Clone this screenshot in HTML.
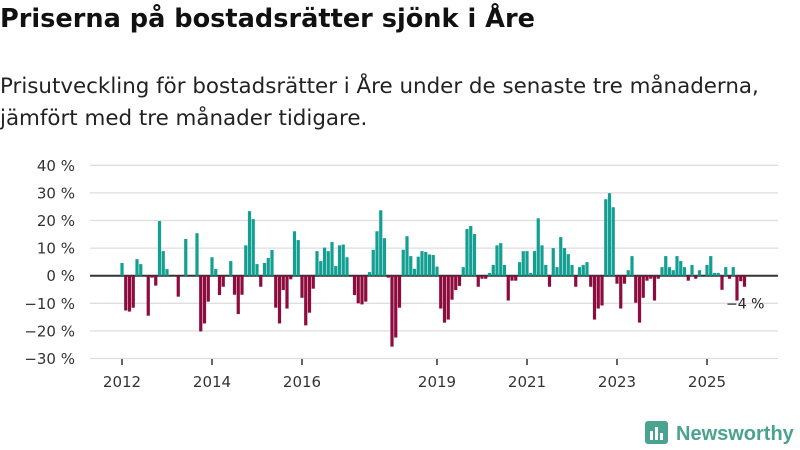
<!DOCTYPE html>
<html><head><meta charset="utf-8"><style>
body{margin:0;width:800px;height:450px;background:#fff;font-family:"DejaVu Sans","Liberation Sans",sans-serif;overflow:hidden;position:relative;color:#111}
h1{position:absolute;left:0;top:4px;margin:0;font-size:25.6px;font-weight:bold;letter-spacing:0}
.sub{position:absolute;left:0;top:71px;margin:0;font-size:21.4px;line-height:32px;color:#222;letter-spacing:0}
svg{position:absolute;left:0;top:0}
</style></head><body>
<h1>Priserna på bostadsrätter sjönk i Åre</h1>
<p class="sub">Prisutveckling för bostadsrätter i Åre under de senaste tre månaderna,<br>jämfört med tre månader tidigare.</p>
<svg id="chart" width="800" height="450"></svg>
<script>
const months=[0,1,2,3,4,5,7,8,9,10,11,12,15,17,20,21,22,23,24,25,26,27,29,30,31,32,33,34,35,36,37,38,39,40,41,42,43,44,45,46,47,48,49,50,51,52,53,54,55,56,57,58,59,60,62,63,64,65,66,67,68,69,70,71,72,73,74,75,76,77,78,79,80,81,82,83,84,85,86,87,88,89,90,91,92,93,94,95,96,97,98,99,100,101,102,103,104,105,106,107,108,109,110,111,112,113,114,115,116,117,118,119,120,121,122,123,124,125,126,127,128,129,130,131,132,133,134,135,136,137,138,139,140,141,142,143,144,145,146,147,148,149,150,151,152,153,154,156,157,158,159,160,161,162,163,164,165,166];
const values=[4.6,-12.6,-13,-11.6,6,4.2,-14.5,-0.7,-3.6,19.8,8.9,2.4,-7.6,13.3,15.4,-20.2,-17.3,-9.4,6.7,2.4,-7,-4,5.3,-6.9,-13.9,-6.9,11,23.4,20.5,4.2,-4,4.6,6.4,9.3,-11.6,-17.3,-5.2,-11.9,-1.3,16.1,12.9,-8,-18,-13.4,-4.7,8.9,5.3,10.2,8.9,12.2,3.5,11,11.3,6.7,-7,-10,-10.4,-9.4,1.3,9.4,16.1,23.7,13.6,-0.7,-25.7,-22.4,-11.6,9.4,14.3,7.1,2.5,6.9,8.9,8.6,7.7,7.5,3.3,-11.9,-17,-15.9,-8.7,-5.2,-3.7,3.1,16.9,18,15.1,-4,-1.1,-1.1,1,3.9,11,11.8,3.9,-9,-1.8,-1.8,4.9,8.9,8.9,1,8.9,20.8,11,3.9,-4,10,3.1,14,10,7.8,3.9,-4,3.1,3.9,4.9,-4,-15.9,-11.9,-10.8,27.7,29.9,24.8,-2.9,-11.9,-2.9,2,7.1,-9.8,-17,-8,-1.8,-1.1,-9,-1.1,3.1,7.1,3.1,2,7.1,5.3,3.1,-1.8,3.9,-1.1,2,3.9,7.1,1,1,-5.1,3.1,-1.1,3.1,-9,-2,-4];
const yTicks=[40,30,20,10,0,-10,-20,-30];
const yearLabels=[2012,2014,2016,2019,2021,2023,2025];
const NS='http://www.w3.org/2000/svg';
const svg=document.getElementById('chart');
const FONT='DejaVu Sans, Liberation Sans, sans-serif';
const xM=m=>122+m*3.75;
const xY=y=>122+(y-2012)*45;
const yV=v=>275.7-v*2.76;
function mk(t,a){const e=document.createElementNS(NS,t);for(const k in a)e.setAttribute(k,a[k]);svg.appendChild(e);return e;}
yTicks.forEach(t=>{
  const g=mk('line',{x1:90,x2:778,y1:yV(t),y2:yV(t),stroke:t===0?'#333':'#dedede','stroke-width':t===0?2:1.3});
  
  
  const l=mk('text',{x:75,y:yV(t)+5.5,'text-anchor':'end','font-size':15,fill:'#333','font-family':FONT});
  l.textContent=(t<0?'\u2212'+(-t):t)+' %';
  
  
});
yearLabels.forEach(y=>{
  const tk=mk('line',{x1:xY(y),x2:xY(y),y1:359,y2:365,stroke:'#333','stroke-width':1.5});
  
  
  const l=mk('text',{x:xY(y),y:387,'text-anchor':'middle','font-size':15,fill:'#333','font-family':FONT});
  l.textContent=y;
  
  
});
months.forEach((m,i)=>{
  const v=values[i];
  const y0=yV(0),y1=yV(v);
  const r=mk('rect',{x:xM(m)-1.6,y:Math.min(y0,y1),width:3.2,height:Math.max(0.8,Math.abs(y1-y0)),fill:v>=0?'#13a093':'#8e0b3d'});
  
  
});
const last=values[values.length-1];
const lb=mk('text',{x:726,y:yV(last)+22,'font-size':14,fill:'#222','font-family':FONT});
lb.textContent='\u2212'+Math.abs(Math.round(last))+' %';


</script>
<svg width="800" height="450" style="pointer-events:none">
  <rect x="645" y="421" width="23" height="23" rx="3" fill="#4aa390"/>
  <rect x="650" y="431" width="3" height="9" fill="#fff"/>
  <rect x="655" y="427" width="3" height="13" fill="#fff"/>
  <rect x="660" y="433" width="3" height="7" fill="#fff"/>
  <text x="676" y="440" font-size="20" font-weight="bold" fill="#4aa390" font-family="Liberation Sans, sans-serif">Newsworthy</text>
</svg>
</body></html>
